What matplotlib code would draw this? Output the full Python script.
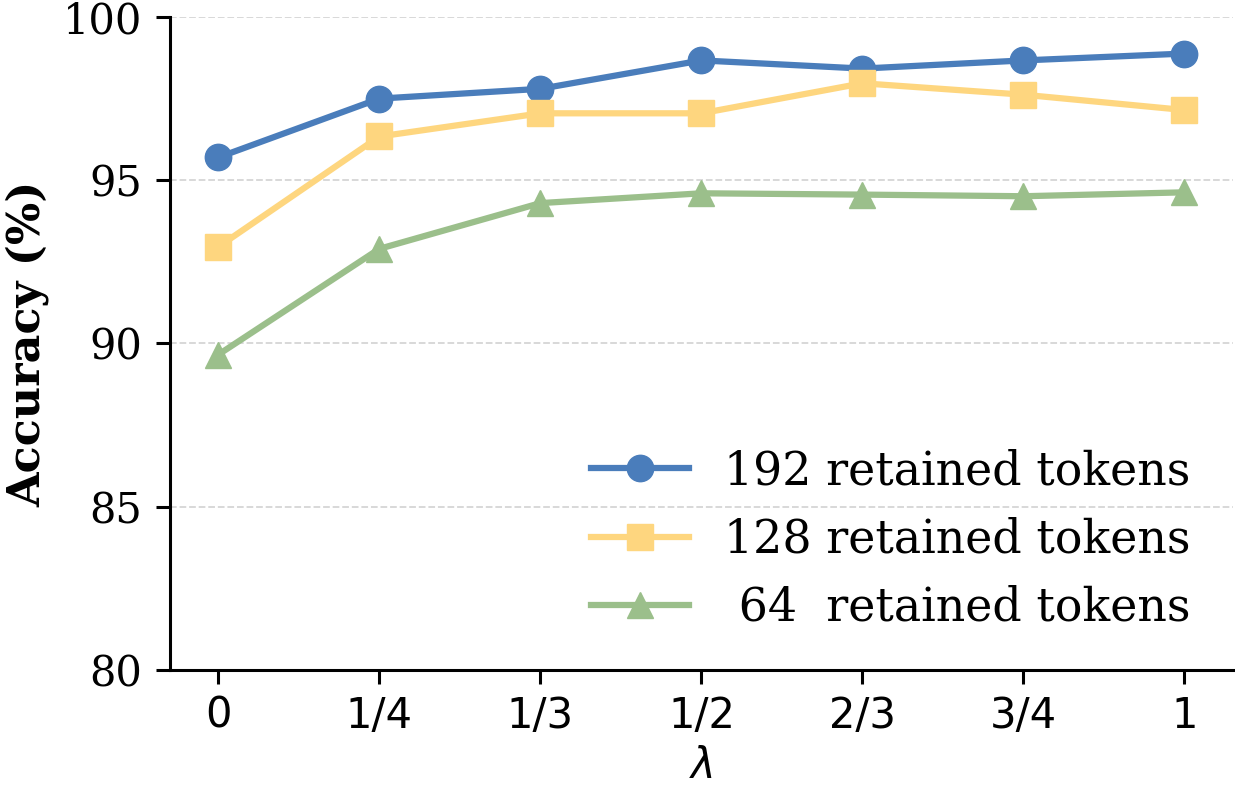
import matplotlib
matplotlib.use('Agg')
import matplotlib.pyplot as plt
import numpy as np

# ── Données ─────────────────────────────────────────────
lam_labels = ['0', '1/4', '1/3', '1/2', '2/3', '3/4', '1']
acc_192 = [95.7, 97.5, 97.8, 98.67, 98.42, 98.67, 98.88]
acc_128 = [92.96, 96.34, 97.05, 97.05, 97.97, 97.62, 97.15]
acc_64 = [89.66, 92.9, 94.3, 94.6, 94.56, 94.51, 94.63]

series_labels = ['192 retained tokens', '128 retained tokens', ' 64  retained tokens']
colors = ['#4A7DBB', '#FED67F', '#9BBF8B']
markers = ['o', 's', '^']

x = np.arange(len(lam_labels))

fig = plt.figure(figsize=(12.35, 7.9), dpi=100)
ax = fig.add_axes([0.1377, 0.1519, 0.8605, 0.8266])

for vals, lab, c, m in zip([acc_192, acc_128, acc_64], series_labels, colors, markers):
    ax.plot(x, vals, color=c, marker=m, markersize=19, linewidth=4.5,
            label=lab, zorder=3)

ax.set_xlim(-0.3, 6.3)
ax.set_ylim(80, 100)
ax.set_yticks([80, 85, 90, 95, 100])
ax.set_xticks(x)
ax.set_xticklabels(lam_labels, fontsize=30, family='DejaVu Sans')
ax.set_yticklabels(['80', '85', '90', '95', '100'], fontsize=30, family='DejaVu Serif')

ax.yaxis.grid(True, linestyle='--', color='#d5d5d5', linewidth=1.3, zorder=0)
ax.set_axisbelow(True)

for s in ['top', 'right']:
    ax.spines[s].set_visible(False)
for s in ['left', 'bottom']:
    ax.spines[s].set_linewidth(2.2)
ax.tick_params(axis='both', length=10, width=2.2)
ax.tick_params(axis='x', pad=8)
ax.tick_params(axis='y', pad=10)

ax.set_ylabel('Accuracy (%)', fontsize=32, family='DejaVu Serif',
              fontweight='bold', labelpad=10)
ax.set_xlabel(r'$\lambda$', fontsize=30, labelpad=6)

ax.legend(loc='lower right', bbox_to_anchor=(0.96, 0.06), frameon=False,
          prop={'family': 'DejaVu Serif', 'size': 33},
          handlelength=2.15, handletextpad=0.75, labelspacing=0.5,
          borderpad=0, borderaxespad=0)

plt.savefig('out.png', dpi=100)
plt.close()
